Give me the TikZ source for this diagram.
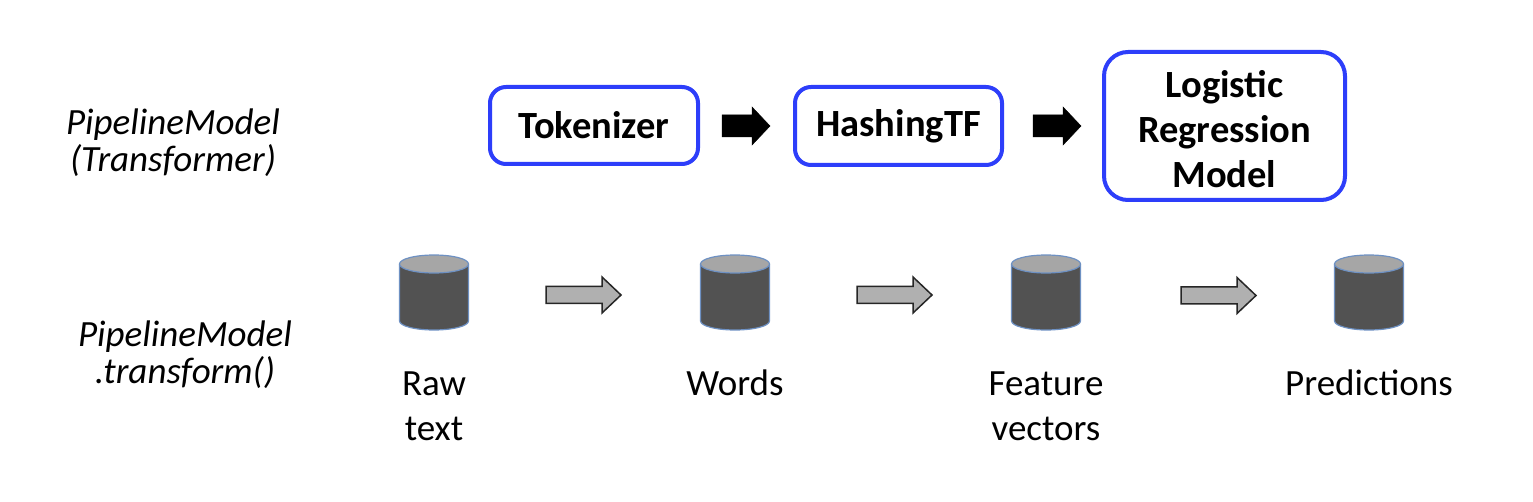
\documentclass[tikz,border=0pt]{standalone}
\usepackage{fontspec}
\setmainfont{Carlito}
\definecolor{boxblue}{RGB}{45,62,250}
\definecolor{cylbody}{RGB}{82,82,82}
\definecolor{cyltop}{RGB}{166,166,166}
\definecolor{cylline}{RGB}{110,145,195}
\definecolor{arrgray}{RGB}{176,176,176}
\newcommand{\drum}[2]{%
  \fill[cylbody] (#1-34.5,264) -- (#1-34.5,321) arc[start angle=180,end angle=360,x radius=34.5pt,y radius=9pt] -- (#1+34.5,264) -- cycle;
  \draw[cylline,line width=1.2pt] (#1-34.5,264) -- (#1-34.5,321) arc[start angle=180,end angle=360,x radius=34.5pt,y radius=9pt] -- (#1+34.5,264);
  \filldraw[fill=cyltop,draw=cylline,line width=1.2pt] (#1,264) ellipse[x radius=34.5pt,y radius=9pt];
  \coordinate (#2) at (#1,292);}
% style, x0, yc, length, shaft half, head half, head length
\newcommand{\blockarr}[7]{%
  \filldraw[#1] (#2,#3-#5) -- (#2+#4-#7,#3-#5) -- (#2+#4-#7,#3-#6) -- (#2+#4,#3) -- (#2+#4-#7,#3+#6) -- (#2+#4-#7,#3+#5) -- (#2,#3+#5) -- cycle;}
\begin{document}
\begin{tikzpicture}[x=1pt,y=-1pt,
  stage/.style={draw=boxblue,line width=4pt,fill=white,rounded corners=16pt,
    font=\fontsize{38.5}{45}\selectfont\bfseries,align=center,inner sep=0pt},
  sidelabel/.style={font=\fontsize{37}{37}\selectfont\itshape,align=center,inner sep=0pt},
  datalabel/.style={font=\fontsize{37}{45}\selectfont,align=center,inner sep=0pt},
  blackarr/.style={fill=black,draw=black,line width=0.5pt},
  grayarr/.style={fill=arrgray,draw=black!85,line width=1.5pt,line join=miter}]
\useasboundingbox (0,0) rectangle (1533,502);
% left labels
\node[sidelabel,anchor=base] (lab1) at (173,172) {PipelineModel\\(Transformer)};
\node[sidelabel,anchor=base] (lab2) at (185,383) {PipelineModel\\.transform()};
% stages
\node[stage,minimum width=208pt,minimum height=77pt] (tok) at (594,125.5) {Tokenizer};
\node[stage,minimum width=207pt,minimum height=78pt] (hash) at (898.5,126) {HashingTF};
\node[stage,minimum width=241pt,minimum height=148pt,rounded corners=24pt] (lr) at (1224.5,126) {\rule{0pt}{34pt}Logistic\\Regression\\Model};
\blockarr{blackarr}{722}{126}{48}{11}{19}{18}
\blockarr{blackarr}{1033}{126}{48}{11}{19}{18}
% data
\drum{434}{d1}
\drum{735}{d2}
\drum{1046}{d3}
\drum{1369}{d4}
\blockarr{grayarr}{546}{295}{75}{8.5}{18}{19}
\blockarr{grayarr}{857}{295}{75}{8.5}{18}{19}
\blockarr{grayarr}{1181}{295.5}{75}{8.5}{18}{19}
\node[datalabel,anchor=base] (t1) at (434,440) {Raw\\text};
\node[datalabel,anchor=base] (t2) at (735,395) {Words};
\node[datalabel,anchor=base] (t3) at (1046,440) {Feature\\vectors};
\node[datalabel,anchor=base] (t4) at (1369,395) {Predictions};
\end{tikzpicture}
\end{document}
